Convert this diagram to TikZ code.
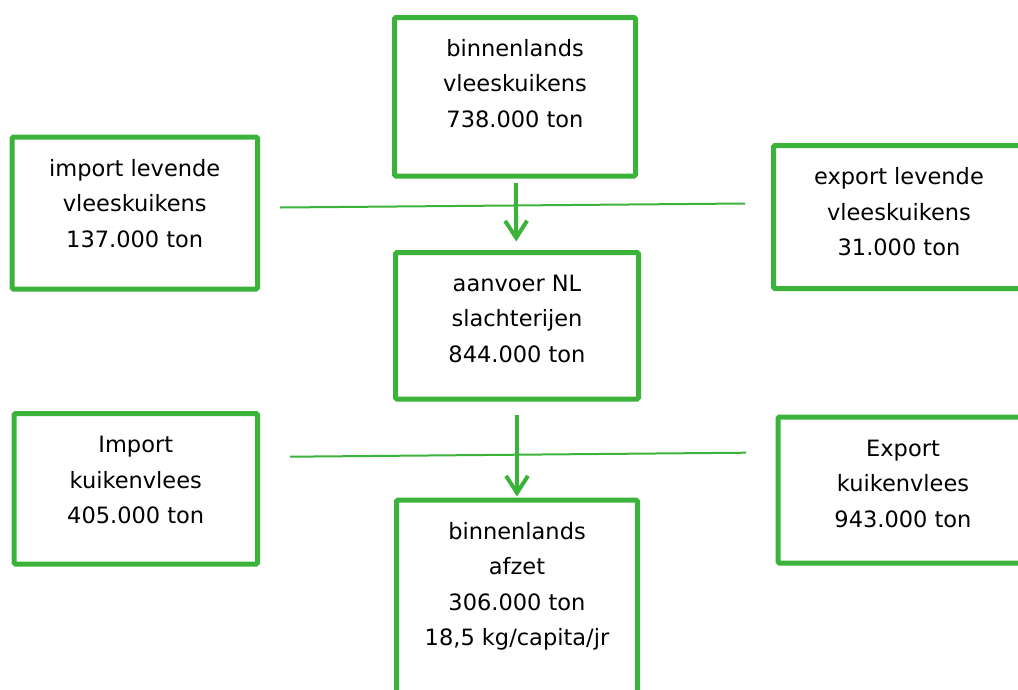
\documentclass[tikz,border=0pt]{standalone}
\usepackage{fontspec}
\setmainfont{DejaVu Sans}
\usetikzlibrary{positioning,arrows.meta}
\definecolor{kipgreen}{RGB}{59,179,59}
\tikzset{
  box/.style={draw=kipgreen, line width=5pt, rounded corners=1.5pt, inner sep=0pt},
  boxtext/.style={align=center, inner sep=0pt, font=\fontsize{22.5}{35.5}\selectfont},
  flow/.style={draw=kipgreen, line width=4pt, -{Straight Barb[length=17pt,width=22pt]}},
  divider/.style={draw=kipgreen, line width=2pt}
}

\begin{document}
\begin{tikzpicture}[x=1pt,y=-1pt]
\useasboundingbox (0,0) rectangle (1018,689);
% boxes
\node[box, minimum width=241, minimum height=158.5] (binnenvk) at (515,96.75) {};
\node[box, minimum width=245.5, minimum height=152] (importlev) at (134.75,213) {};
\node[box, minimum width=251, minimum height=143] (exportlev) at (899,217) {};
\node[box, minimum width=243, minimum height=146.5] (aanvoer) at (517,325.75) {};
\node[box, minimum width=243.5, minimum height=150.5] (importvk) at (135.75,488.75) {};
\node[box, minimum width=250, minimum height=146] (exportvk) at (903,490) {};
\node[box, minimum width=241, minimum height=220] (afzet) at (517,610) {};
% texts
\node[boxtext, below=24pt of binnenvk.north] (binnenvktxt) {binnenlands\\vleeskuikens\\738.000 ton};
\node[boxtext, below=24.5pt of importlev.north] (importlevtxt) {import levende\\vleeskuikens\\137.000 ton};
\node[boxtext, below=24.5pt of exportlev.north] (exportlevtxt) {export levende\\vleeskuikens\\31.000 ton};
\node[boxtext, below=24.5pt of aanvoer.north] (aanvoertxt) {aanvoer NL\\slachterijen\\844.000 ton};
\node[boxtext, below=25pt of importvk.north] (importvktxt) {Import\\kuikenvlees\\405.000 ton};
\node[boxtext, below=25pt of exportvk.north] (exportvktxt) {Export\\kuikenvlees\\943.000 ton};
\node[boxtext, below=24.5pt of afzet.north] (afzettxt) {binnenlands\\afzet\\306.000 ton\\18,5 kg/capita/jr};
% dividers
\coordinate (levL) at (280,207.5);
\coordinate (levR) at (745,203.5);
\coordinate (vkL) at (290,456.7);
\coordinate (vkR) at (746,452.7);
\draw[divider] (levL) -- (levR);
\draw[divider] (vkL) -- (vkR);
% flows
\draw[flow, shorten <=4.5pt, shorten >=8.5pt] (binnenvk) -- (aanvoer);
\draw[flow, shorten <=13.5pt, shorten >=1pt] (aanvoer) -- (afzet);
\end{tikzpicture}
\end{document}
